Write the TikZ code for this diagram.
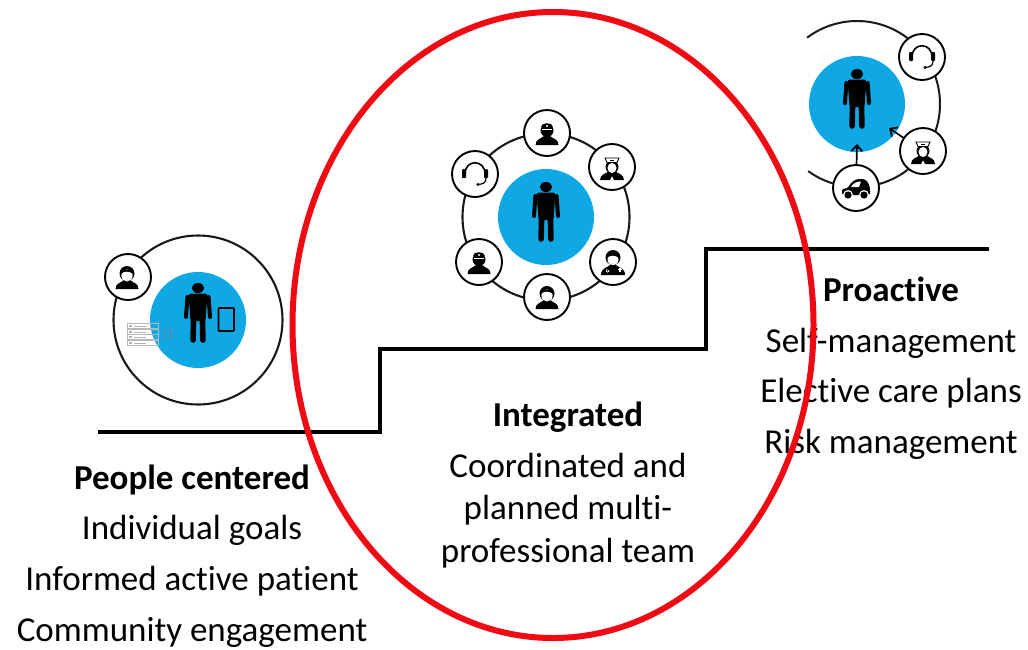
\documentclass[tikz,border=0pt]{standalone}
\usepackage{fontspec}
\setmainfont[Ligatures=CommonOff]{Carlito}
\usetikzlibrary{shapes.geometric,arrows.meta}
\definecolor{skyb}{HTML}{0FA8E4}
\definecolor{redring}{HTML}{F00A14}
\tikzset{
  x=1pt,y=-1pt,
  bluedisc/.style={circle,fill=skyb,minimum size=96pt,inner sep=0pt,outer sep=0pt},
  ringc/.style={circle,draw=black!90,line width=2.1pt,minimum size=167pt,inner sep=0pt},
  iconc/.style={circle,draw=black,line width=1.9pt,fill=white,minimum size=46pt,inner sep=0pt,outer sep=0pt},
  stair/.style={line width=3.8pt,miter limit=10},
  lab/.style={anchor=base,font=\fontsize{35}{40}\selectfont,inner sep=0pt},
  arrowl/.style={line width=1.7pt,-{Straight Barb[length=6pt,width=11pt]}},
  person/.pic={
    \fill (0,-29) ellipse (6.2 and 5);
    \fill[rounded corners=2.5pt] (-9.5,-23.5) -- (9.5,-23.5) -- (7.5,4) -- (-7.5,4) -- cycle;
    \draw[line width=4pt,line cap=round] (-10.6,-20) -- (-12,0);
    \draw[line width=4pt,line cap=round] (10.6,-20) -- (12,0);
    \draw[line width=5.6pt,line cap=round] (-4.4,0) -- (-4.9,23);
    \draw[line width=5.6pt,line cap=round] (4.4,0) -- (4.9,23);
  },
  shoulders/.pic={
    \fill (-11.5,12) .. controls (-11.5,6) and (-6,6) .. (-3,3) -- (3,3) .. controls (6,6) and (11.5,6) .. (11.5,12) -- cycle;
  },
  patient/.pic={
    \pic {shoulders};
    \fill (0,-3.5) circle (7.5);
    \fill[white] (0,-1.5) ellipse (5.6 and 6);
    \fill (-5.6,-3.5) .. controls (-3,-6) and (2,-6) .. (5.6,-3.5) -- (5.6,-7) -- (-5.6,-7) -- cycle;
  },
  surgeon/.pic={
    \pic {shoulders};
    \fill (0,-2.5) circle (6.5);
    \fill (-6,-6) .. controls (-6,-11) and (6,-11) .. (6,-6) -- cycle;
    \fill[white] (-5,-4.2) rectangle (5,-3.5);
    \fill[white] (0,-7) circle (1.1);
  },
  nurse/.pic={
    \fill (-12,13) .. controls (-12,7) and (-6,7) .. (-3,4) -- (3,4) .. controls (6,7) and (12,7) .. (12,13) -- (2,13) -- (0,9) -- (-2,13) -- cycle;
    \fill (0,0) circle (6.5);
    \fill[white] (0,1) ellipse (4.5 and 5);
    \draw[line width=.9pt,fill=white] (-7,-9) -- (7,-9) -- (5,-4.5) -- (-5,-4.5) -- cycle;
    \fill (-1.6,-7.3) rectangle (1.6,-6);
  },
  doctor/.pic={
    \fill (-12,13) .. controls (-12,6) and (-6,6) .. (-3,3) -- (3,3) .. controls (6,6) and (12,6) .. (12,13) -- cycle;
    \fill (0,-4.5) circle (7.5);
    \fill[white] (0,-2.5) ellipse (5.5 and 5.7);
    \fill (-5.5,-4.5) .. controls (-3,-7) and (2,-7) .. (5.5,-4.5) -- (5.5,-8) -- (-5.5,-8) -- cycle;
    \draw[white,line width=.8pt] (-6,7) .. controls (-8,11) and (-4,11) .. (-4,8);
    \fill[white] (5,7) rectangle (9,8.4);
    \fill[white] (6.3,5.7) rectangle (7.7,9.7);
  },
  headset/.pic={
    \draw[line width=1.6pt] (-10,0) .. controls (-10,-15) and (10,-15) .. (10,0);
    \fill[rounded corners=1pt] (-13,-5) rectangle (-9,4);
    \fill[rounded corners=1pt] (9,-5) rectangle (13,4);
    \draw[line width=1.2pt] (11,4) .. controls (11,9) and (8,10) .. (3,10.5);
    \fill (3,10.5) circle (1.7);
  },
  car/.pic={
    \fill[rounded corners=1.5pt] (-14,7) -- (-14,1) -- (-8,0) .. controls (-5,-6) and (-1,-9) .. (5,-9) .. controls (10,-9) and (13,-5) .. (14,1) -- (14,7) -- cycle;
    \fill[white] (-5,-1) .. controls (-3,-4.5) and (0,-6.5) .. (5,-6.5) -- (3,-1) -- cycle;
    \fill[white] (-8,7) circle (5);
    \fill (-8,7) circle (3.6);
    \fill[white] (8,7) circle (5);
    \fill (8,7) circle (3.6);
  },
}
\begin{document}
\begin{tikzpicture}
\useasboundingbox (0,0) rectangle (1028,649);
\fill[white] (0,0) rectangle (1028,649);

% stairs
\coordinate (s0) at (98,432);
\coordinate (s1) at (380,432);
\coordinate (s2) at (380,349);
\coordinate (s3) at (706,349);
\coordinate (s4) at (706,249);
\coordinate (s5) at (989,249);
\draw[stair] (s0) -- (s1) -- (s2) -- (s3) -- (s4) -- (s5);

% left group
\node[ringc,minimum size=169pt] (lring) at (198,320) {};
\node[bluedisc] (lblue) at (198,320) {};
\pic at (198,317) {person};
\node[iconc] (lpat) at (128,277) {};
\pic at (127,277) {patient};
\draw[black,line width=1.6pt,rounded corners=.8pt] (218.5,308) rectangle (234,331);
\foreach \yy in {326,332,337,343}{
  \draw[black!28,line width=.4pt] (127,\yy-2.5) rectangle (158,\yy+2.5);
  \fill[black!30] (129,\yy-1) rectangle (132,\yy+1);
  \draw[black!30,line width=.5pt] (134,\yy) -- (146,\yy);
}
\draw[black!50,line width=.6pt,rounded corners=.6pt] (165,330) rectangle (171.5,338);

% middle group
\node[ringc] (mring) at (546,217) {};
\node[bluedisc] (mblue) at (546,217) {};
\pic at (546,216) {person};
\node[iconc] (m1) at (547,133) {};
\node[iconc] (m2) at (612,167) {};
\node[iconc] (m3) at (613,262) {};
\node[iconc] (m4) at (547,297) {};
\node[iconc] (m5) at (479,262) {};
\node[iconc] (m6) at (475,174) {};
\pic at (547,133) {surgeon};
\pic at (612,167) {nurse};
\pic at (613,262) {doctor};
\pic at (547,297) {patient};
\pic at (479,262) {surgeon};
\pic at (475,174) {headset};

% right group
\coordinate (rc) at (857,104);
\draw[line width=2pt,black!90] plot[smooth,samples=60,domain=-127:126] ({857+83*cos(\x)},{104+83*sin(\x)});
\node[bluedisc] (rblue) at (rc) {};
\pic at (857,103) {person};
\node[iconc] (r1) at (922,57) {};
\node[iconc] (r2) at (923,151) {};
\node[iconc] (r3) at (856,188) {};
\pic at (922,57) {headset};
\pic at (923,151) {nurse};
\pic at (856,188) {car};
\coordinate (tip1) at (857,144);
\coordinate (tip2) at (889,128);
\draw[arrowl] (r3) -- (tip1);
\draw[arrowl] (r2) -- (tip2);

% texts
\node[lab] (t1) at (192,489) {\textbf{People centered}};
\node[lab] (t2) at (192,539) {Individual goals};
\node[lab] (t3) at (192,590) {Informed active patient};
\node[lab] (t4) at (192,641) {Community engagement};
\node[lab] (t5) at (568,426) {\textbf{Integrated}};
\node[lab] (t6) at (568,477) {Coordinated and};
\node[lab] (t7) at (568,519) {planned multi-};
\node[lab] (t8) at (568,562) {professional team};
\node[lab] (t9) at (891,301) {\textbf{Proactive}};
\node[lab] (t10) at (891,352) {Self-management};
\node[lab] (t11) at (891,402) {Elective care plans};
\node[lab] (t12) at (891,453) {Risk management};

% red ellipse
\node[ellipse,draw=redring,line width=6pt,minimum width=521pt,minimum height=626pt,inner sep=0pt] (red) at (553,325) {};
\end{tikzpicture}
\end{document}
